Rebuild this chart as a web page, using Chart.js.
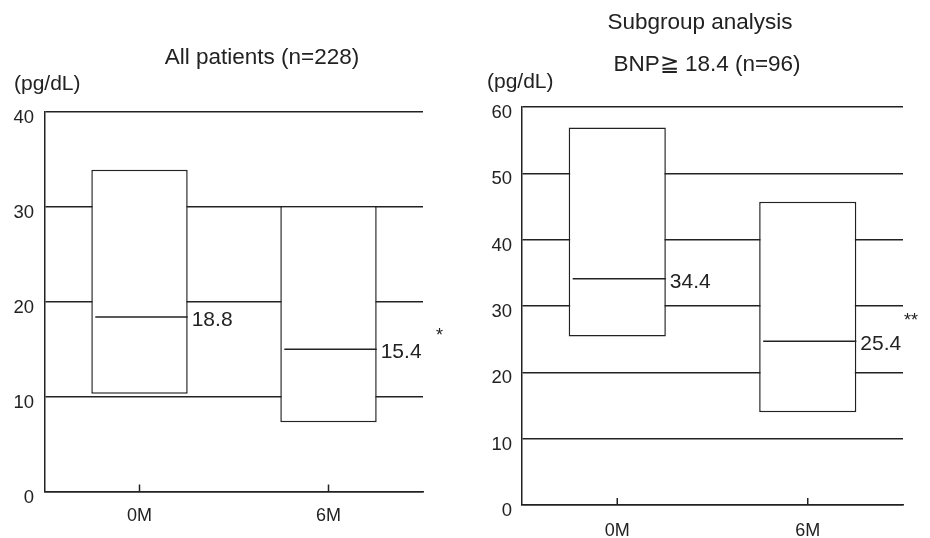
<!DOCTYPE html>
<html>
<head>
<meta charset="utf-8">
<script src="https://cdn.jsdelivr.net/npm/chart.js@4.4.0/dist/chart.umd.min.js"></script>
<style>
  html, body { margin: 0; padding: 0; background: #fff; }
  #wrap { position: relative; width: 930px; height: 538px; }
  .panel { position: absolute; top: 0; height: 538px; }
</style>
</head>
<body>
<div id="wrap">
  <div class="panel" style="left:0;width:460px"><canvas id="leftChart"></canvas></div>
  <div class="panel" style="left:460px;width:470px"><canvas id="rightChart"></canvas></div>
</div>
<script>
const categories = ['0M', '6M'];

// all patients (n=228)
const allLow = [10.3, 7.3];
const allHigh = [33.9, 30.1];
const allMedian = [18.4, 15.0];
const allMedianText = ['18.8', '15.4'];
const allTicks = [0, 10, 20, 30, 40];

// subgroup BNP >= 18.4 (n=96)
const subLow = [25.4, 14.0];
const subHigh = [56.9, 45.7];
const subMedian = [34.1, 24.7];
const subMedianText = ['34.4', '25.4'];
const subTicks = [0, 10, 20, 30, 40, 50, 60];

const INK = '#222';
const FONT = "'Liberation Sans', Arial, Helvetica, sans-serif";

function makeChart(id, o) {
  // titles, unit label, medians and the inside x ticks
  const panelText = {
    id: 'panelText',
    afterDatasetsDraw(chart) {
      const ctx = chart.ctx;
      const xs = chart.scales.x;
      const ys = chart.scales.y;
      const bottom = chart.chartArea.bottom;
      ctx.save();
      ctx.strokeStyle = INK;
      ctx.lineWidth = 1.5;
      // short ticks pointing up into the plot
      categories.forEach((c, i) => {
        const px = xs.getPixelForTick(i);
        ctx.beginPath();
        ctx.moveTo(px, bottom);
        ctx.lineTo(px, bottom - 7);
        ctx.stroke();
      });
      // median lines + values
      ctx.fillStyle = INK;
      ctx.font = '21px ' + FONT;
      ctx.textAlign = 'left';
      ctx.textBaseline = 'middle';
      chart.getDatasetMeta(0).data.forEach((bar, i) => {
        const py = ys.getPixelForValue(o.median[i]);
        const l = bar.x - bar.width / 2;
        const r = bar.x + bar.width / 2;
        ctx.beginPath();
        ctx.moveTo(l + 4, py);
        ctx.lineTo(r, py);
        ctx.stroke();
        ctx.fillText(o.medianText[i], r + 4, py + 3);
      });
      ctx.fillText('(pg/dL)', o.unitX, o.unitY);
      // titles
      ctx.font = '22.5px ' + FONT;
      ctx.textAlign = 'center';
      o.titles.forEach(t => ctx.fillText(t.text, t.x, t.y));
      // significance mark
      ctx.textAlign = 'left';
      ctx.font = '18px ' + FONT;
      ctx.fillText(o.mark, o.markX, o.markY);
      ctx.restore();
    }
  };

  return new Chart(document.getElementById(id), {
    type: 'bar',
    data: {
      labels: categories,
      datasets: [{
        data: o.low.map((v, i) => [v, o.high[i]]),
        backgroundColor: '#fff',
        borderColor: INK,
        borderWidth: 1.5,
        borderSkipped: false,
        barPercentage: 0.51,
        categoryPercentage: 1
      }]
    },
    options: {
      animation: false,
      responsive: true,
      maintainAspectRatio: false,
      layout: { padding: { top: o.top, right: o.right, left: 0, bottom: 0 } },
      plugins: { legend: { display: false }, tooltip: { enabled: false } },
      scales: {
        x: {
          grid: { display: false },
          border: { color: INK, width: 1.5 },
          ticks: { color: INK, font: { family: FONT, size: 18 }, padding: o.xPad, maxRotation: 0 },
          afterFit: s => { s.height = o.xHeight; }
        },
        y: {
          min: 0,
          max: o.ticks[o.ticks.length - 1],
          afterBuildTicks: s => { s.ticks = o.ticks.map(v => ({ value: v })); },
          grid: { color: INK, lineWidth: 1.5, drawTicks: false },
          border: { color: INK, width: 1.5 },
          ticks: { color: INK, font: { family: FONT, size: 18.5 }, padding: o.yPad, labelOffset: 6 },
          afterFit: s => { s.width = o.yWidth; }
        }
      }
    },
    plugins: [panelText]
  });
}

makeChart('leftChart', {
  low: allLow, high: allHigh, median: allMedian, medianText: allMedianText, ticks: allTicks,
  top: 112, right: 37, yWidth: 45, xHeight: 46.5, xPad: 6, yPad: 11,
  titles: [{ text: 'All patients (n=228)', x: 262, y: 58 }],
  unitX: 14, unitY: 84,
  mark: '*', markX: 436, markY: 336
});

makeChart('rightChart', {
  low: subLow, high: subHigh, median: subMedian, medianText: subMedianText, ticks: subTicks,
  top: 107, right: 27, yWidth: 62, xHeight: 33, xPad: 7, yPad: 10,
  titles: [
    { text: 'Subgroup analysis', x: 240, y: 23 },
    { text: 'BNP\u2267 18.4 (n=96)', x: 247, y: 65 }
  ],
  unitX: 27, unitY: 82,
  mark: '**', markX: 444, markY: 321
});
</script>
</body>
</html>
